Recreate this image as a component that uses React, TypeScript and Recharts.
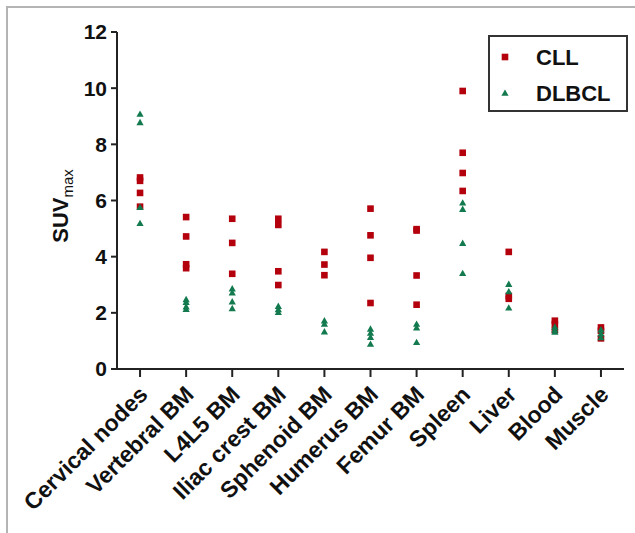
import React from "react";
import {
  ScatterChart,
  Scatter,
  XAxis,
  YAxis,
  Legend,
} from "recharts";

const categories = [
  "Cervical nodes",
  "Vertebral BM",
  "L4L5 BM",
  "Iliac crest BM",
  "Sphenoid BM",
  "Humerus BM",
  "Femur BM",
  "Spleen",
  "Liver",
  "Blood",
  "Muscle",
];

const cllValues = [
  [6.82, 6.7, 6.27, 5.78],
  [5.41, 4.72, 3.73, 3.59],
  [5.35, 4.49, 3.39],
  [5.35, 5.13, 3.48, 2.99],
  [4.17, 3.72, 3.34],
  [5.71, 4.76, 3.96, 2.35],
  [4.98, 4.93, 3.33, 2.29],
  [9.9, 7.7, 6.98, 6.34],
  [4.17, 2.6, 2.5],
  [1.72, 1.6, 1.38],
  [1.48, 1.36, 1.09],
];

const dlbclValues = [
  [9.08, 8.78, 5.76, 5.19],
  [2.48, 2.38, 2.22, 2.13],
  [2.86, 2.72, 2.4, 2.16],
  [2.24, 2.12, 2.02],
  [1.72, 1.6, 1.33],
  [1.43, 1.28, 1.13, 0.89],
  [1.6, 1.47, 0.95],
  [5.92, 5.69, 4.48, 3.41],
  [3.02, 2.76, 2.18],
  [1.5, 1.4, 1.32],
  [1.4, 1.26, 1.12],
];

const yTicks = [0, 2, 4, 6, 8, 10, 12];
const xTicks = categories.map((_, i) => i);

const RED = "#b3000c";
const GREEN = "#127a4e";
const FONT = "'Liberation Sans', Arial, sans-serif";

const toPoints = (groups: number[][]) =>
  groups.flatMap((vals, i) => vals.map((v) => ({ x: i, y: v })));

const cllData = toPoints(cllValues);
const dlbclData = toPoints(dlbclValues);

const SquareDot = (props: any) => {
  const { cx, cy } = props;
  return <rect x={cx - 3.3} y={cy - 3.3} width={6.6} height={6.6} fill={RED} />;
};

const TriangleDot = (props: any) => {
  const { cx, cy } = props;
  return (
    <polygon
      points={`${cx},${cy - 3.6} ${cx + 3.6},${cy + 2.8} ${cx - 3.6},${cy + 2.8}`}
      fill={GREEN}
    />
  );
};

const XTick = (props: any) => {
  const { x, y, payload } = props;
  return (
    <g transform={`translate(${x + 9},${y + 17})`}>
      <text
        x={0}
        y={0}
        textAnchor="end"
        transform="rotate(-45)"
        fontFamily={FONT}
        fontWeight="bold"
        fontSize={23}
        fill="#111"
      >
        {categories[payload.value]}
      </text>
    </g>
  );
};

const LegendBox = () => (
  <div
    style={{
      border: "2px solid #333",
      width: 136,
      height: 73,
      boxSizing: "content-box",
      position: "relative",
    }}
  >
    <svg width={136} height={73} style={{ position: "absolute", left: 0, top: 0 }}>
      <rect x={11.7} y={16.7} width={6.6} height={6.6} fill={RED} />
      <polygon points="15,52.4 18.6,58.8 11.4,58.8" fill={GREEN} />
      <text x={46} y={28} fontFamily={FONT} fontWeight="bold" fontSize={22} fill="#111">
        CLL
      </text>
      <text x={46} y={64} fontFamily={FONT} fontWeight="bold" fontSize={22} fill="#111">
        DLBCL
      </text>
    </svg>
  </div>
);

export default function App() {
  return (
    <div
      style={{
        position: "absolute",
        left: 0,
        top: 0,
        width: 635,
        height: 533,
        background: "#fff",
      }}
    >
      <div
        style={{
          position: "absolute",
          left: 6,
          top: 6,
          width: 629,
          height: 527,
          borderLeft: "2px solid #b4b4b4",
          borderTop: "2px solid #b4b4b4",
        }}
      />
      <ScatterChart
        width={635}
        height={533}
        margin={{ top: 32, right: 11, bottom: 134, left: 57 }}
      >
        <XAxis
          type="number"
          dataKey="x"
          domain={[-0.5, 10.5]}
          allowDataOverflow
          ticks={xTicks}
          interval={0}
          height={30}
          tickSize={8}
          tick={<XTick />}
          axisLine={{ stroke: "#222", strokeWidth: 2 }}
          tickLine={{ stroke: "#222", strokeWidth: 2 }}
        />
        <YAxis
          type="number"
          dataKey="y"
          domain={[0, 12]}
          allowDataOverflow
          ticks={yTicks}
          width={60}
          tickSize={6}
          tickMargin={4}
          axisLine={{ stroke: "#222", strokeWidth: 2 }}
          tickLine={{ stroke: "#222", strokeWidth: 2 }}
          tick={{ fontFamily: FONT, fontWeight: "bold", fontSize: 21, fill: "#111" }}
          label={{
            content: () => (
              <text
                transform="translate(68,206) rotate(-90)"
                textAnchor="middle"
                fontFamily={FONT}
                fill="#111"
              >
                <tspan fontSize={22} fontWeight="bold">SUV</tspan>
                <tspan fontSize={15} dy={5}>max</tspan>
              </text>
            ),
          }}
        />
        <Legend
          layout="vertical"
          align="center"
          verticalAlign="middle"
          content={<LegendBox />}
          wrapperStyle={{ left: 488, top: 35, width: 140, height: 77 }}
        />
        <Scatter
          name="CLL"
          data={cllData}
          fill={RED}
          shape={<SquareDot />}
          isAnimationActive={false}
        />
        <Scatter
          name="DLBCL"
          data={dlbclData}
          fill={GREEN}
          shape={<TriangleDot />}
          isAnimationActive={false}
        />
      </ScatterChart>
    </div>
  );
}
